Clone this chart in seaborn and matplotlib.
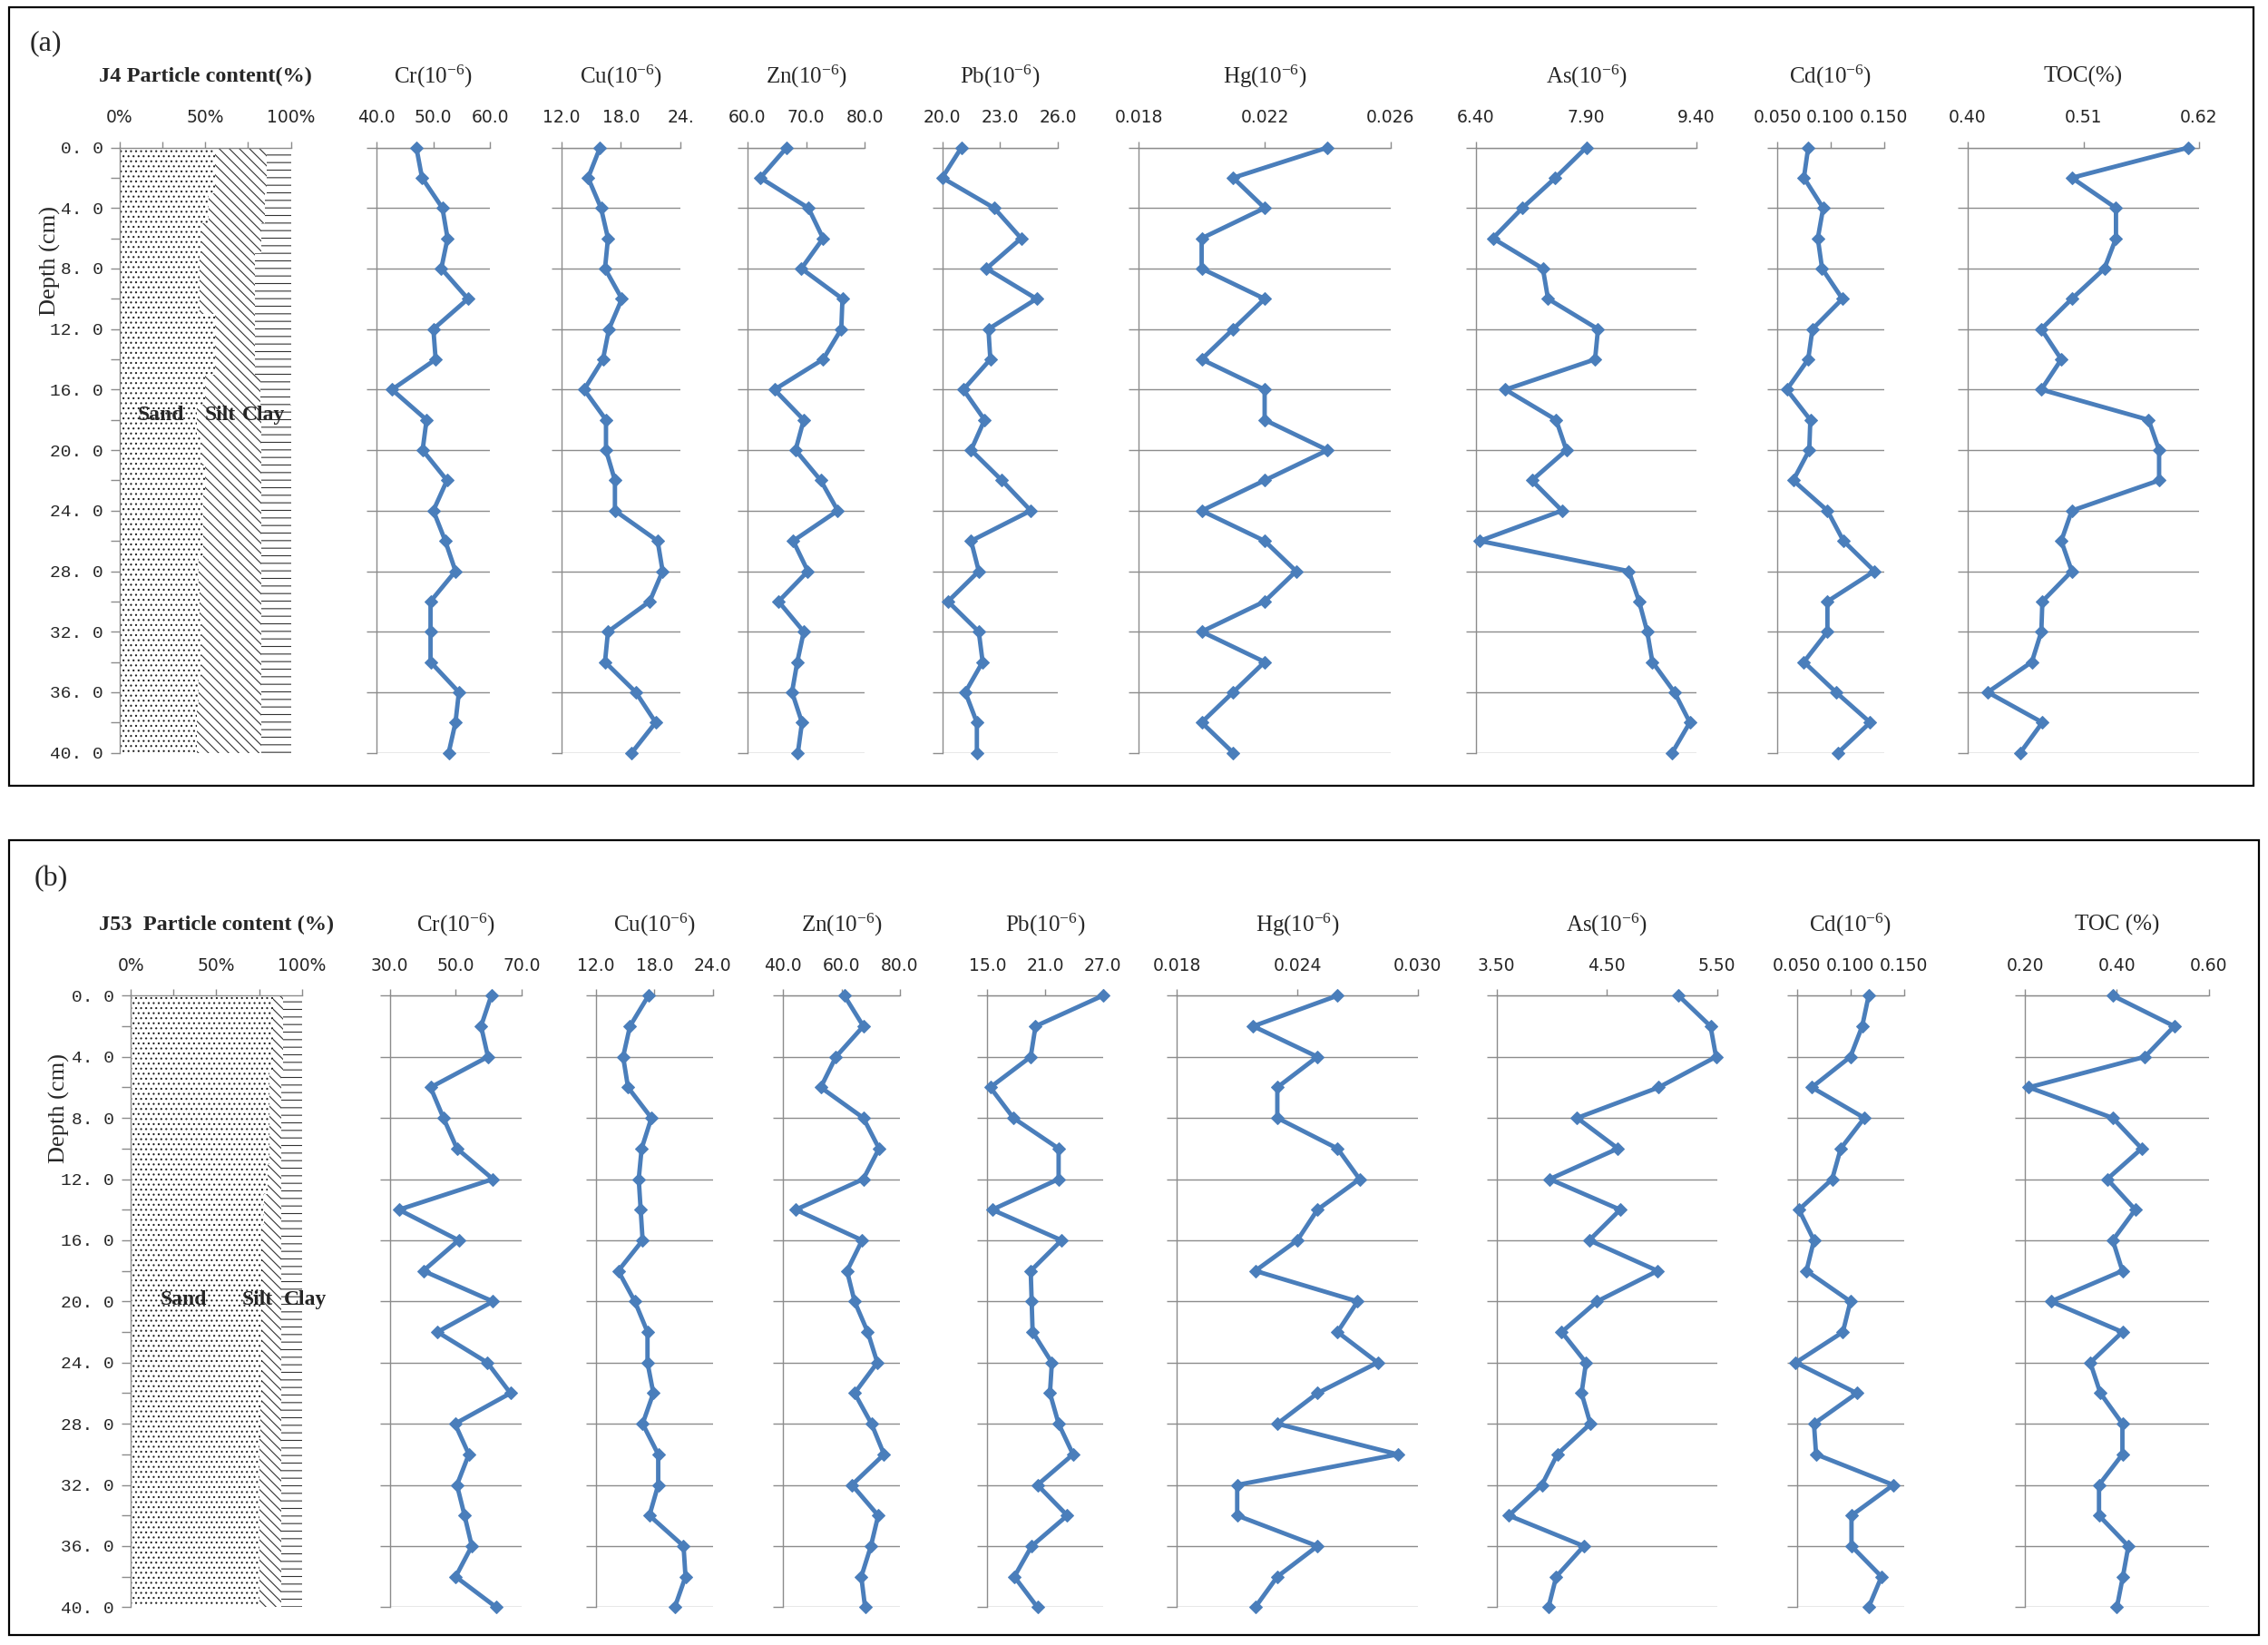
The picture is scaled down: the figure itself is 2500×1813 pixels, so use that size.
import matplotlib
matplotlib.use("Agg")
import matplotlib.pyplot as plt
import seaborn as sns
from matplotlib.patches import Rectangle

# depth of every sample (cm)
depth = [0, 2, 4, 6, 8, 10, 12, 14, 16, 18, 20, 22, 24, 26, 28, 30, 32, 34, 36, 38, 40]

# ---- core J4, panel (a) ----
a_sand = [56, 56, 52, 48, 47, 47, 56, 56, 50, 45, 48, 50, 49, 49, 46, 47, 48, 48, 46, 45, 45]
a_silt = [30, 30, 33, 35, 32, 32, 23, 23, 32, 38, 35, 33, 34, 34, 37, 36, 35, 35, 37, 38, 38]
a_clay = [14, 14, 15, 17, 21, 21, 21, 21, 18, 17, 17, 17, 17, 17, 17, 17, 17, 17, 17, 17, 17]
a_cr = [47.0, 48.0, 51.6, 52.5, 51.4, 56.1, 50.0, 50.4, 42.7, 48.8, 48.1, 52.4, 50.0, 52.1,
        53.9, 49.5, 49.5, 49.5, 54.5, 53.9, 52.7]
a_cu = [15.9, 14.7, 16.0, 16.7, 16.4, 18.1, 16.8, 16.2, 14.3, 16.5, 16.5, 17.4, 17.4, 21.7,
        22.2, 20.9, 16.7, 16.4, 19.5, 21.5, 19.1]
a_zn = [66.7, 62.2, 70.4, 72.9, 69.2, 76.2, 76.0, 72.9, 64.6, 69.6, 68.2, 72.5, 75.4, 67.8,
        70.3, 65.3, 69.6, 68.5, 67.6, 69.3, 68.6]
a_pb = [21.0, 20.0, 22.7, 24.1, 22.3, 24.9, 22.4, 22.5, 21.1, 22.2, 21.5, 23.1, 24.6, 21.5,
        21.9, 20.3, 21.9, 22.1, 21.2, 21.8, 21.8]
a_hg = [0.024, 0.021, 0.022, 0.020, 0.020, 0.022, 0.021, 0.020, 0.022, 0.022, 0.024, 0.022,
        0.020, 0.022, 0.023, 0.022, 0.020, 0.022, 0.021, 0.020, 0.021]
a_as = [7.90, 7.48, 7.03, 6.63, 7.31, 7.38, 8.06, 8.02, 6.80, 7.49, 7.63, 7.16, 7.57, 6.45,
        8.48, 8.62, 8.73, 8.80, 9.10, 9.31, 9.07]
a_cd = [0.079, 0.075, 0.093, 0.088, 0.092, 0.111, 0.083, 0.079, 0.059, 0.081, 0.080, 0.065,
        0.097, 0.112, 0.141, 0.097, 0.097, 0.075, 0.105, 0.137, 0.107]
a_toc = [0.610, 0.499, 0.541, 0.541, 0.530, 0.499, 0.470, 0.489, 0.470, 0.572, 0.582, 0.582,
         0.499, 0.489, 0.499, 0.471, 0.470, 0.461, 0.419, 0.471, 0.450]

# ---- core J53, panel (b) ----
b_sand = [83, 83, 83, 81, 81, 81, 80, 78, 77, 77, 77, 77, 77, 77, 76, 75, 75, 75, 75, 75, 75]
b_silt = [6, 6, 6, 7, 7, 7, 8, 10, 11, 11, 11, 11, 11, 11, 12, 13, 13, 13, 13, 13, 13]
b_clay = [11, 11, 11, 12, 12, 12, 12, 12, 12, 12, 12, 12, 12, 12, 12, 12, 12, 12, 12, 12, 12]
b_cr = [60.8, 57.7, 59.8, 42.4, 46.3, 50.4, 61.3, 32.8, 50.9, 40.2, 61.3, 44.5, 59.6, 66.6,
        49.8, 54.0, 50.4, 52.7, 54.9, 50.0, 62.3]
b_cu = [17.4, 15.5, 14.8, 15.3, 17.7, 16.7, 16.4, 16.6, 16.8, 14.3, 16.0, 17.3, 17.3, 17.9,
        16.8, 18.4, 18.4, 17.5, 21.0, 21.2, 20.1]
b_zn = [61.0, 67.5, 58.1, 52.9, 67.5, 72.9, 67.5, 44.3, 67.1, 61.9, 64.5, 69.0, 72.3, 64.5,
        70.3, 74.6, 63.6, 72.6, 70.1, 66.8, 68.1]
b_pb = [27.0, 20.0, 19.5, 15.3, 17.7, 22.4, 22.4, 15.5, 22.7, 19.5, 19.6, 19.7, 21.7, 21.5,
        22.4, 23.9, 20.2, 23.3, 19.6, 17.8, 20.2]
b_hg = [0.0260, 0.0218, 0.0250, 0.0230, 0.0230, 0.0260, 0.0271, 0.0250, 0.0240, 0.0219,
        0.0270, 0.0260, 0.0280, 0.0250, 0.0230, 0.0290, 0.0210, 0.0210, 0.0250, 0.0230, 0.0219]
b_as = [5.15, 5.44, 5.49, 4.97, 4.23, 4.60, 3.98, 4.62, 4.34, 4.96, 4.41, 4.09, 4.31, 4.27,
        4.35, 4.05, 3.91, 3.61, 4.29, 4.04, 3.97]
b_cd = [0.117, 0.111, 0.100, 0.064, 0.113, 0.091, 0.083, 0.052, 0.066, 0.059, 0.100, 0.093,
        0.049, 0.106, 0.066, 0.068, 0.140, 0.101, 0.101, 0.129, 0.117]
b_toc = [0.391, 0.525, 0.461, 0.208, 0.391, 0.454, 0.379, 0.440, 0.391, 0.412, 0.256, 0.412,
         0.342, 0.364, 0.412, 0.412, 0.361, 0.361, 0.425, 0.413, 0.400]

W, H = 2500, 1813
BLUE = "#4A7EBB"
GRID = "#8C8C8C"

sns.set_style("white")
plt.rcParams["font.family"] = ["Liberation Serif", "DejaVu Sans"]
plt.rcParams["mathtext.default"] = "regular"
plt.rcParams["hatch.linewidth"] = 0.8

fig = plt.figure(figsize=(W / 100, H / 100), dpi=100)


def box(x0, x1, y0, y1):
    return [x0 / W, 1 - y1 / H, (x1 - x0) / W, (y1 - y0) / H]


def style_axes(ax, xlo, xhi, ticks, labels):
    ax.set_xlim(xlo, xhi)
    ax.set_ylim(40, 0)
    ax.xaxis.tick_top()
    ax.set_xticks(ticks)
    ax.set_xticklabels(labels, fontfamily="DejaVu Sans", fontsize=13.5)
    ax.tick_params(axis="x", length=5, width=1, color=GRID, pad=12, top=True, bottom=False)
    ax.set_xlabel("")
    ax.set_ylabel("")
    for s in ["right", "bottom"]:
        ax.spines[s].set_visible(False)
    for s in ["left", "top"]:
        ax.spines[s].set_color(GRID)
        ax.spines[s].set_linewidth(1)
    ax.patch.set_alpha(0)


def particle(ax, sand, silt, clay, title, lab_y, lab_x, ylab_xy):
    left2 = [s + t for s, t in zip(sand, silt)]
    ax.barh(depth, sand, height=2, color="white", edgecolor="#222222", hatch="...", lw=0)
    ax.barh(depth, silt, left=sand, height=2, color="white", edgecolor="#333333",
            hatch="\\\\\\", lw=0)
    ax.barh(depth, clay, left=left2, height=2, color="white", edgecolor="#333333",
            hatch="--", lw=0)
    style_axes(ax, 0, 100, [0, 50, 100], ["0%", "50%", "100%"])
    ax.set_xticks([25, 75], minor=True)
    ax.tick_params(axis="x", which="minor", length=5, width=1, color=GRID, top=True, bottom=False)
    ax.set_yticks(range(0, 41, 4))
    ax.set_yticklabels([f"{d}. 0" for d in range(0, 41, 4)], fontfamily="Liberation Mono",
                       fontsize=14)
    ax.set_yticks(range(0, 41, 2), minor=True)
    ax.tick_params(axis="y", which="both", length=7, width=1, color=GRID, pad=6, left=True)
    ax.annotate(title, xy=(0.5, 1), xycoords="axes fraction", xytext=(0, 78),
                textcoords="offset pixels", ha="center", va="center", fontsize=17.5,
                fontweight="bold")
    for txt, x in zip(["Sand", "Silt", "Clay"], lab_x):
        ax.text(x, lab_y, txt, ha="center", va="center", fontsize=17, fontweight="bold")
    fig.text(ylab_xy[0] / W, 1 - ylab_xy[1] / H, "Depth (cm)", rotation=90,
             ha="center", va="center", fontsize=19)


def profile(ax, values, xlo, xhi, ticks, labels, title):
    sns.lineplot(x=values, y=depth, sort=False, estimator=None, orient="y", ax=ax,
                 color=BLUE, linewidth=3.5, marker="D", markersize=7.5, markeredgecolor=BLUE,
                 markerfacecolor=BLUE, clip_on=False, zorder=3)
    style_axes(ax, xlo, xhi, ticks, labels)
    ax.set_yticks(range(0, 41, 4))
    ax.set_yticklabels([])
    ax.tick_params(axis="y", length=8, width=1, color=GRID, left=True)
    ax.grid(axis="y", color=GRID, lw=1)
    ax.grid(axis="x", visible=False)
    ax.annotate(title, xy=(0.5, 1), xycoords="axes fraction", xytext=(0, 78),
                textcoords="offset pixels", ha="center", va="center", fontsize=18)


def fmt(vals, f):
    return [format(v, f) for v in vals]


unit = "(10$^{-6}$)"

# ---------- panel (a) ----------
ya0, ya1 = 162.6, 829.6
ax = fig.add_axes(box(131.7, 320.5, ya0, ya1))
particle(ax, a_sand, a_silt, a_clay, "J4 Particle content(%)", 17.7, [24, 59, 84], (55, 287))
profile(fig.add_axes(box(415.2, 540.2, ya0, ya1)), a_cr, 40, 60, [40, 50, 60],
        fmt([40, 50, 60], ".1f"), "Cr" + unit)
profile(fig.add_axes(box(618.7, 750.1, ya0, ya1)), a_cu, 12, 24, [12, 18, 24],
        ["12.0", "18.0", "24."], "Cu" + unit)
profile(fig.add_axes(box(823.9, 953.2, ya0, ya1)), a_zn, 60, 80, [60, 70, 80],
        fmt([60, 70, 80], ".1f"), "Zn" + unit)
profile(fig.add_axes(box(1038.6, 1165.9, ya0, ya1)), a_pb, 20, 26, [20, 23, 26],
        fmt([20, 23, 26], ".1f"), "Pb" + unit)
profile(fig.add_axes(box(1255.1, 1532.9, ya0, ya1)), a_hg, 0.018, 0.026,
        [0.018, 0.022, 0.026], fmt([0.018, 0.022, 0.026], ".3f"), "Hg" + unit)
profile(fig.add_axes(box(1627, 1870, ya0, ya1)), a_as, 6.4, 9.4, [6.4, 7.9, 9.4],
        fmt([6.4, 7.9, 9.4], ".2f"), "As" + unit)
profile(fig.add_axes(box(1959, 2076.8, ya0, ya1)), a_cd, 0.05, 0.15, [0.05, 0.10, 0.15],
        fmt([0.05, 0.10, 0.15], ".3f"), "Cd" + unit)
profile(fig.add_axes(box(2169, 2424, ya0, ya1)), a_toc, 0.40, 0.62, [0.40, 0.51, 0.62],
        fmt([0.40, 0.51, 0.62], ".2f"), "TOC(%)")

# ---------- panel (b) ----------
yb0, yb1 = 1097.3, 1771.4
ax = fig.add_axes(box(144.2, 332.6, yb0, yb1))
particle(ax, b_sand, b_silt, b_clay, "J53  Particle content (%)", 19.9, [31, 74, 102],
         (65, 1222))
profile(fig.add_axes(box(429.5, 575, yb0, yb1)), b_cr, 30, 70, [30, 50, 70],
        fmt([30, 50, 70], ".1f"), "Cr" + unit)
profile(fig.add_axes(box(656.8, 785.7, yb0, yb1)), b_cu, 12, 24, [12, 18, 24],
        fmt([12, 18, 24], ".1f"), "Cu" + unit)
profile(fig.add_axes(box(863.3, 991.8, yb0, yb1)), b_zn, 40, 80, [40, 60, 80],
        fmt([40, 60, 80], ".1f"), "Zn" + unit)
profile(fig.add_axes(box(1088.4, 1215.7, yb0, yb1)), b_pb, 15, 27, [15, 21, 27],
        fmt([15, 21, 27], ".1f"), "Pb" + unit)
profile(fig.add_axes(box(1297.4, 1562.8, yb0, yb1)), b_hg, 0.018, 0.030,
        [0.018, 0.024, 0.030], fmt([0.018, 0.024, 0.030], ".3f"), "Hg" + unit)
profile(fig.add_axes(box(1649.8, 1892.8, yb0, yb1)), b_as, 3.5, 5.5, [3.5, 4.5, 5.5],
        fmt([3.5, 4.5, 5.5], ".2f"), "As" + unit)
profile(fig.add_axes(box(1980.6, 2098.8, yb0, yb1)), b_cd, 0.05, 0.15, [0.05, 0.10, 0.15],
        fmt([0.05, 0.10, 0.15], ".3f"), "Cd" + unit)
profile(fig.add_axes(box(2232.3, 2434.6, yb0, yb1)), b_toc, 0.20, 0.60, [0.20, 0.40, 0.60],
        fmt([0.20, 0.40, 0.60], ".2f"), "TOC (%)")

# frames and panel letters
for (x0, x1, y0, y1), letter, (lx, ly) in [((9.6, 2484, 8, 866), "(a)", (50, 48)),
                                           ((9.6, 2490, 926, 1802), "(b)", (56, 969))]:
    fig.add_artist(Rectangle((x0 / W, 1 - y1 / H), (x1 - x0) / W, (y1 - y0) / H,
                             transform=fig.transFigure, fill=False, ec="black", lw=1.6))
    fig.text(lx / W, 1 - ly / H, letter, ha="center", va="center", fontsize=23)

fig.savefig("out.png", dpi=100, facecolor="white")
